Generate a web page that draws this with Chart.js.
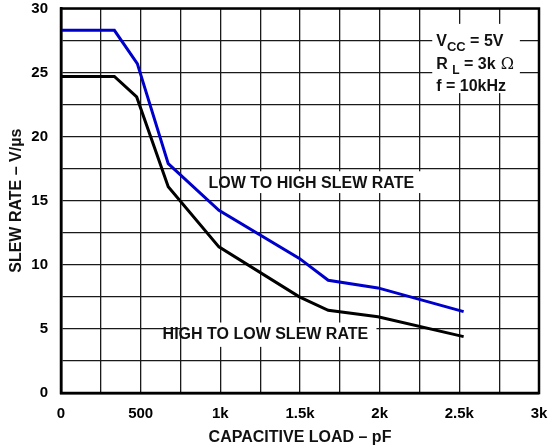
<!DOCTYPE html>
<html>
<head>
<meta charset="utf-8">
<script src="https://cdn.jsdelivr.net/npm/chart.js@4/dist/chart.umd.min.js"></script>
<style>
html,body{margin:0;padding:0;background:#fff;}
#wrap{width:549px;height:448px;position:relative;}
</style>
</head>
<body>
<div id="wrap"><canvas id="c" width="549" height="448"></canvas></div>
<script>
// ---- data (capacitive load in pF, slew rate in V/us) ----
const lowToHighLoad = [0, 335, 479, 673, 991, 1496, 1677, 1989, 2527];
const lowToHighRate = [28.3, 28.3, 25.7, 17.9, 14.25, 10.5, 8.8, 8.2, 6.35];
const highToLowLoad = [0, 335, 475, 673, 991, 1496, 1677, 1989, 2527];
const highToLowRate = [24.7, 24.7, 23.1, 16.1, 11.4, 7.5, 6.45, 5.95, 4.4];
const xTickLabels = ['0', '500', '1k', '1.5k', '2k', '2.5k', '3k'];
const yTickLabels = ['0', '5', '10', '15', '20', '25', '30'];
const seriesNames = ['LOW TO HIGH SLEW RATE', 'HIGH TO LOW SLEW RATE'];

const FONT = '"Liberation Sans", Arial, sans-serif';

function pts(xs, ys){ return xs.map((x,i)=>({x:x, y:ys[i]})); }

const labelPlugin = {
  id: 'labels',
  beforeDatasetsDraw(chart){
    const ctx = chart.ctx, xs = chart.scales.x, ys = chart.scales.y;
    ctx.save();
    ctx.fillStyle = '#fff';
    const boxes = [[1170, 2285, 17.3, 15.6], [770, 1980, 5.5, 3.6], [2330, 2880, 28.8, 23.4]];
    boxes.forEach(b=>{
      const x1 = xs.getPixelForValue(b[0]), x2 = xs.getPixelForValue(b[1]);
      const y1 = ys.getPixelForValue(b[2]), y2 = ys.getPixelForValue(b[3]);
      ctx.fillRect(x1, y1, x2-x1, y2-y1);
    });
    ctx.restore();
  },
  afterDatasetsDraw(chart){
    const ctx = chart.ctx, xs = chart.scales.x, ys = chart.scales.y, a = chart.chartArea;
    ctx.save();
    ctx.strokeStyle = '#000';
    ctx.lineWidth = 2.5;
    ctx.strokeRect(a.left, a.top, a.right-a.left, a.bottom-a.top);
    ctx.fillStyle = '#111';
    ctx.font = 'bold 16px ' + FONT;
    ctx.textAlign = 'center';
    ctx.textBaseline = 'middle';
    ctx.fillText(seriesNames[0], xs.getPixelForValue(1571), ys.getPixelForValue(16.35));
    ctx.fillText(seriesNames[1], xs.getPixelForValue(1283), ys.getPixelForValue(4.55));
    ctx.textAlign = 'left';
    ctx.textBaseline = 'alphabetic';
    const x0 = xs.getPixelForValue(2355);
    let x = x0, y = ys.getPixelForValue(27.1);
    ctx.font = 'bold 16px ' + FONT;
    ctx.fillText('V', x, y); x += ctx.measureText('V').width;
    ctx.font = 'bold 13px ' + FONT;
    ctx.fillText('CC', x, y + 5); x += ctx.measureText('CC').width;
    ctx.font = 'bold 16px ' + FONT;
    ctx.fillText(' = 5V', x, y);
    x = x0; y = ys.getPixelForValue(25.25);
    ctx.fillText('R', x, y); x += ctx.measureText('R ').width;
    ctx.font = 'bold 12px ' + FONT;
    ctx.fillText('L', x, y + 5); x += ctx.measureText('L').width;
    ctx.font = 'bold 16px ' + FONT;
    ctx.fillText(' = 3k', x, y); x += ctx.measureText(' = 3k').width;
    ctx.font = '16px "DejaVu Serif", serif';
    ctx.fillText(' Ω', x, y);
    ctx.font = 'bold 16px ' + FONT;
    x = x0; y = ys.getPixelForValue(23.55);
    ctx.fillText('f = 10kHz', x, y);
    ctx.restore();
  }
};

new Chart(document.getElementById('c'), {
  type: 'scatter',
  data: {
    datasets: [
      { label: seriesNames[0], data: pts(lowToHighLoad, lowToHighRate), showLine: true,
        borderColor: '#0000cc', borderWidth: 3, pointRadius: 0, fill: false, tension: 0 },
      { label: seriesNames[1], data: pts(highToLowLoad, highToLowRate), showLine: true,
        borderColor: '#000', borderWidth: 3, pointRadius: 0, fill: false, tension: 0 }
    ]
  },
  options: {
    responsive: false,
    animation: false,
    devicePixelRatio: 1,
    layout: { padding: { top: 8.5, right: 10, left: 0, bottom: 0 } },
    plugins: { legend: { display: false }, tooltip: { enabled: false } },
    scales: {
      x: {
        type: 'linear', min: 0, max: 3000,
        afterFit(s){ s.height = 55; s.paddingLeft = 0; s.paddingRight = 0; },
        grid: { color: '#1a1a1a', lineWidth: 1.3, drawTicks: false },
        border: { color: '#000', width: 2.5 },
        ticks: { stepSize: 250, padding: 12, color: '#000', maxRotation: 0, autoSkip: false,
          font: { family: FONT, size: 15, weight: 'bold' },
          callback: v => (v % 500 === 0 ? xTickLabels[v/500] : '') },
        title: { display: true, text: 'CAPACITIVE LOAD – pF', color: '#111',
          font: { family: FONT, size: 16, weight: 'bold' }, padding: { top: 1, bottom: 1 } }
      },
      y: {
        type: 'linear', min: 0, max: 30,
        afterFit(s){ s.width = 61; s.paddingTop = 0; s.paddingBottom = 0; },
        grid: { color: '#1a1a1a', lineWidth: 1.3, drawTicks: false },
        border: { color: '#000', width: 2.5 },
        ticks: { stepSize: 2.5, padding: 13, color: '#000', autoSkip: false,
          font: { family: FONT, size: 15, weight: 'bold' },
          callback: v => (v % 5 === 0 ? yTickLabels[v/5] : '') },
        title: { display: true, text: 'SLEW RATE – V/µs', color: '#111',
          font: { family: FONT, size: 16, weight: 'bold' }, padding: { top: 7, bottom: 7 } }
      }
    }
  },
  plugins: [labelPlugin]
});
</script>
</body>
</html>
